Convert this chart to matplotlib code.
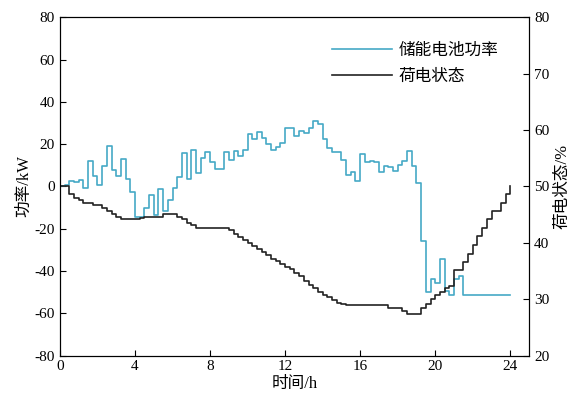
import numpy as np
import matplotlib
matplotlib.use("Agg")
import matplotlib.pyplot as plt

plt.rcParams['font.family'] = ['Liberation Serif', 'Noto Sans CJK SC']
plt.rcParams['axes.unicode_minus'] = False

# 15-min resolution, 96 intervals over 24 h
power = [0, 0.7, 2.7, 2.2, 3.2, -0.5, 12.0, 5.1, 0.5, 9.5, 19.0, 7.9, 5.1, 13.0, 3.5, -2.8,
         -14.5, -14.5, -10.0, -4.1, -13.3, -1.3, -11.6, -6.3, -0.6, 4.6, 15.8, 3.5, 17.1, 6.3, 13.6, 16.5,
         11.4, 8.2, 8.2, 16.5, 12.7, 16.8, 14.6, 17.1, 24.8, 22.5, 25.6, 22.8, 20.1, 17.4, 18.5, 20.4,
         27.8, 27.8, 24.1, 26.3, 25.3, 27.5, 31.0, 29.7, 22.5, 18.0, 16.1, 16.5, 12.7, 5.4, 6.6, 2.7,
         15.3, 11.4, 12.2, 11.4, 6.6, 9.8, 9.0, 7.4, 10.1, 12.2, 16.9, 9.8, 1.4, -25.8, -50.0, -44.0,
         -45.6, -34.5, -49.6, -51.2, -44.0, -42.5, -51.2, -51.2, -51.2, -51.2, -51.2, -51.2, -51.2, -51.2, -51.2, -51.2,
         -51.2]

soc = [50.0, 50.0, 48.6, 48.0, 47.6, 47.15, 47.15, 46.67, 46.67, 46.2, 45.67, 45.07, 44.66, 44.18, 44.18, 44.18,
       44.3, 44.4, 44.66, 44.66, 44.66, 44.66, 45.13, 45.13, 45.13, 44.66, 44.18, 43.59, 43.17, 42.7, 42.7, 42.7,
       42.7, 42.7, 42.7, 42.7, 42.2, 41.6, 41.1, 40.5, 40.0, 39.4, 38.9, 38.3, 37.8, 37.2, 36.7, 36.2,
       35.7, 35.3, 34.7, 34.1, 33.3, 32.6, 31.9, 31.3, 30.8, 30.3, 29.8, 29.4, 29.2, 28.92, 28.92, 28.92,
       28.92, 28.92, 28.92, 28.92, 28.92, 28.92, 28.4, 28.4, 28.4, 27.95, 27.42, 27.42, 27.42, 28.43, 29.2, 30.0,
       30.8, 31.3, 32.0, 32.4, 35.26, 35.26, 36.6, 38.1, 39.6, 41.2, 42.7, 44.2, 45.65, 45.65, 47.15, 48.6,
       50.0]

hours = np.arange(97) * 0.25

blue = '#45a9c6'
black = '#222222'

fig = plt.figure(figsize=(5.82, 4.04), dpi=100)
ax = fig.add_axes([0.103, 0.12, 0.806, 0.837])
ax2 = ax.twinx()

l1, = ax.step(hours, power, where='post', color=blue, lw=1.2, label='储能电池功率')
l2, = ax2.step(hours, soc, where='post', color=black, lw=1.2, label='荷电状态')

ax.set_xlim(0, 25)
ax.set_ylim(-80, 80)
ax2.set_ylim(20, 80)
ax.set_xticks([0, 4, 8, 12, 16, 20, 24])
ax.set_yticks(np.arange(-80, 81, 20))
ax2.set_yticks(np.arange(20, 81, 10))

for a in (ax, ax2):
    a.tick_params(direction='in', labelsize=11, length=4, width=0.8)
    for s in a.spines.values():
        s.set_linewidth(0.8)

ax.set_xlabel('时间/h', fontsize=12, labelpad=2)
ax.set_ylabel('功率/kW', fontsize=12, labelpad=2)
ax2.set_ylabel('荷电状态/%', fontsize=12, labelpad=4)

ax.legend([l1, l2], ['储能电池功率', '荷电状态'], loc='upper right', frameon=False,
          fontsize=12, handlelength=3.6, handletextpad=0.4,
          bbox_to_anchor=(0.967, 0.97), labelspacing=0.6)

fig.savefig('out.png', dpi=100)
